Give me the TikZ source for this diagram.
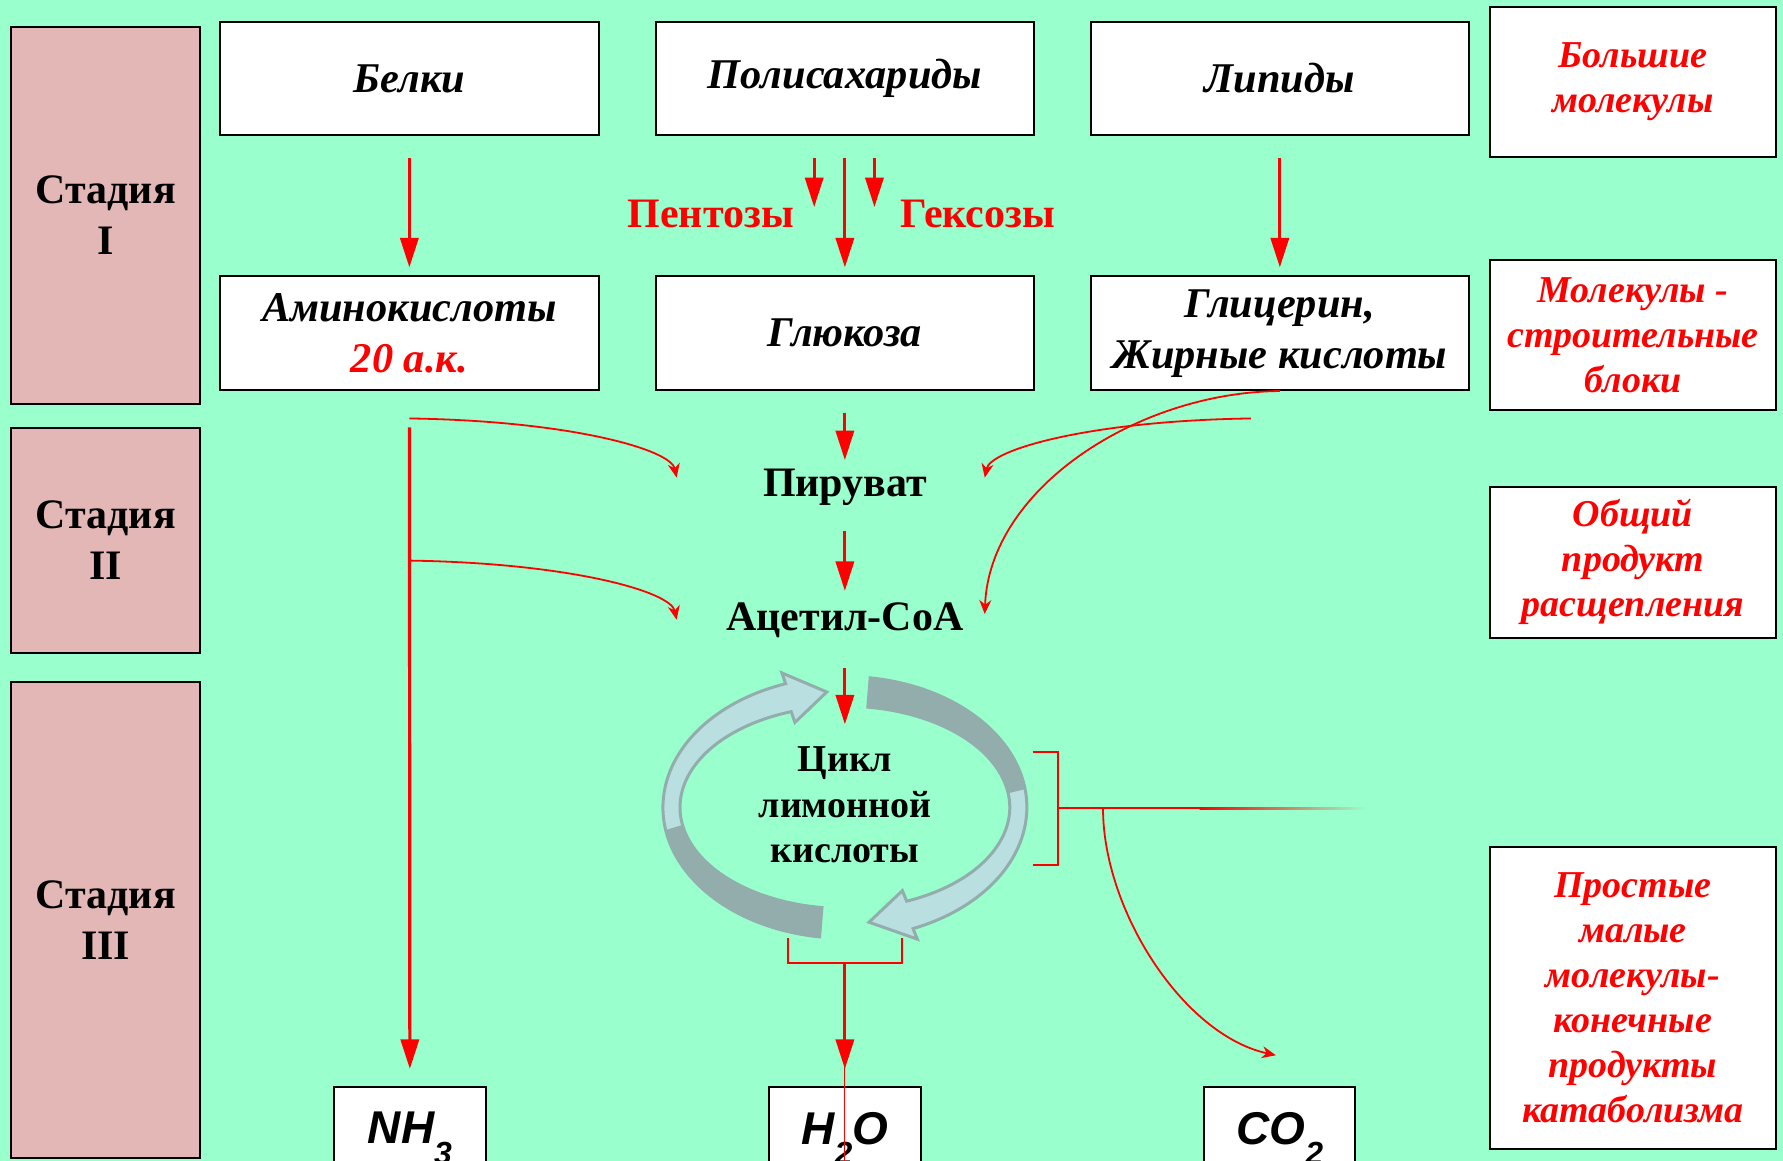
\documentclass[tikz,border=0pt]{standalone}
\usepackage{fontspec}
\setmainfont{Liberation Serif}
\newfontfamily\chemfont{Liberation Sans}
\usepackage{xcolor}
\usetikzlibrary{arrows.meta, positioning, calc}

\definecolor{bgmint}{HTML}{99FFCC}
\definecolor{stagepink}{HTML}{E4B7B7}
\definecolor{ringlight}{HTML}{B9DFE1}
\definecolor{ringgrey}{HTML}{93ADAD}

\begin{document}
\begin{tikzpicture}[
    font=\bfseries\fontsize{21}{25.5}\selectfont,
    stagebox/.style={draw, line width=1pt, fill=stagepink, minimum width=3.32cm, align=center},
    molbox/.style={draw, line width=1pt, fill=white, minimum width=6.66cm, minimum height=2cm, align=center, font=\bfseries\itshape\fontsize{21.2}{25.5}\selectfont},
    notebox/.style={draw, line width=1pt, fill=white, minimum width=5.04cm, align=center, text=red, font=\bfseries\itshape\fontsize{19}{22.5}\selectfont},
    endbox/.style={draw, line width=1pt, fill=white, minimum width=2.66cm, anchor=north, inner ysep=0.44cm, text depth=1.2cm, font=\chemfont\bfseries\itshape\fontsize{23}{23}\selectfont},
    midtext/.style={inner sep=0pt, text height=0.5cm, text depth=0.15cm},
    bigarrow/.style={red, line width=1.6pt, -{Triangle[length=0.52cm, width=0.32cm]}},
    thinarrow/.style={red, line width=0.9pt, -{Stealth[length=7pt, width=6pt]}},
    redline/.style={red, line width=1pt}
]
    \useasboundingbox (0,0) rectangle (31.36,-20.42);
    \fill[bgmint] (0,0) rectangle (31.36,-20.42);

    % Stages
    \node[stagebox, minimum height=6.62cm] (st1) at (1.86,-3.79) {Стадия\\I};
    \node[stagebox, minimum height=3.96cm] (st2) at (1.86,-9.5) {Стадия\\II};
    \node[stagebox, minimum height=8.36cm] (st3) at (1.86,-16.18) {Стадия\\III};

    % Molecules
    \node[molbox] (belki) at (7.2,-1.38) {Белки};
    \node[molbox] (poly) at (14.86,-1.38) {Полисахариды};
    \node[molbox] (lipid) at (22.51,-1.38) {Липиды};
    \node[molbox] (amino) at (7.2,-5.86) {Аминокислоты\\\textcolor{red}{20 а.к.}};
    \node[molbox] (gluc) at (14.86,-5.86) {Глюкоза};
    \node[molbox] (glyc) at (22.51,-5.86) {Глицерин,\\Жирные кислоты};

    % Notes on the right
    \node[notebox, minimum height=2.64cm] (big) at (28.72,-1.44) {Большие\\молекулы};
    \node[notebox, minimum height=2.64cm] (blocks) at (28.72,-5.9) {Молекулы -\\строительные\\блоки};
    \node[notebox, minimum height=2.66cm] (common) at (28.72,-9.89) {Общий\\продукт\\расщепления};
    \node[notebox, minimum height=5.3cm] (simple) at (28.72,-17.55) {Простые\\малые\\молекулы-\\конечные\\продукты\\катаболизма};

    % Intermediates
    \node[red, midtext] (pent) at (12.5,-3.83) {Пентозы};
    \node[red, midtext] (hex) at (17.2,-3.83) {Гексозы};
    \node[midtext] (pyr) at (14.86,-8.55) {Пируват};
    \node[midtext] (acoa) at (14.86,-10.91) {Ацетил-СоА};

    % Citric acid cycle
    \coordinate (cyc) at (14.86,-14.2);
    \filldraw[fill=ringlight, draw=ringgrey, line width=1.5pt]
        ($(cyc)+(262:3.2 and 2.3)$) arc[start angle=262, end angle=109, x radius=3.2, y radius=2.3]
        -- ($(cyc)+(109:3.4 and 2.5)$) -- ($(cyc)+(96:3.05 and 2.04)$)
        -- ($(cyc)+(109:2.7 and 1.58)$) -- ($(cyc)+(109:2.9 and 1.78)$)
        arc[start angle=109, end angle=262, x radius=2.9, y radius=1.78] -- cycle;
    \fill[ringgrey]
        ($(cyc)+(262:3.2 and 2.3)$) arc[start angle=262, end angle=190, x radius=3.2, y radius=2.3]
        -- ($(cyc)+(190:2.9 and 1.78)$)
        arc[start angle=190, end angle=262, x radius=2.9, y radius=1.78] -- cycle;
    \filldraw[fill=ringlight, draw=ringgrey, line width=1.5pt]
        ($(cyc)+(82:3.2 and 2.3)$) arc[start angle=82, end angle=-68, x radius=3.2, y radius=2.3]
        -- ($(cyc)+(-68:3.4 and 2.5)$) -- ($(cyc)+(-82:3.05 and 2.04)$)
        -- ($(cyc)+(-68:2.7 and 1.58)$) -- ($(cyc)+(-68:2.9 and 1.78)$)
        arc[start angle=-68, end angle=82, x radius=2.9, y radius=1.78] -- cycle;
    \fill[ringgrey]
        ($(cyc)+(82:3.2 and 2.3)$) arc[start angle=82, end angle=8, x radius=3.2, y radius=2.3]
        -- ($(cyc)+(8:2.9 and 1.78)$)
        arc[start angle=8, end angle=82, x radius=2.9, y radius=1.78] -- cycle;
    \node[align=center, font=\bfseries\fontsize{19}{22.7}\selectfont] (cycle) at (14.86,-14.16) {Цикл\\лимонной\\кислоты};

    % End products
    \node[endbox] (nh) at (7.21,-19.1) {NH\raisebox{-0.45em}{\fontsize{16}{16}\selectfont 3}};
    \node[endbox] (h2o) at (14.86,-19.1) {H\raisebox{-0.45em}{\fontsize{16}{16}\selectfont 2}O};
    \node[endbox] (co2) at (22.51,-19.1) {CO\raisebox{-0.45em}{\fontsize{16}{16}\selectfont 2}};

    % Free ends
    \coordinate (cyctop) at (14.86,-12.74);
    \coordinate (aa1) at (7.2,-7.36);
    \coordinate (aa2) at (7.2,-9.86);
    \coordinate (pyrL) at (11.9,-8.4);
    \coordinate (acoaL) at (11.9,-10.9);
    \coordinate (lp1) at (22,-7.36);
    \coordinate (pyrR) at (17.32,-8.4);
    \coordinate (acoaR) at (17.32,-10.8);
    \coordinate (brB) at (14.86,-16.94);
    \coordinate (brR) at (19.4,-14.22);
    \coordinate (co2in) at (22.44,-18.56);

    % Main arrows
    \draw[bigarrow, shorten <=0.38cm, shorten >=0.14cm] (belki) -- (amino);
    \draw[bigarrow, shorten <=0.38cm, shorten >=0.14cm] (poly) -- (gluc);
    \draw[bigarrow, shorten <=0.38cm, shorten >=1.2cm] ([xshift=-0.54cm]poly.south) -- ([xshift=-0.54cm]gluc.north);
    \draw[bigarrow, shorten <=0.38cm, shorten >=1.2cm] ([xshift=0.52cm]poly.south) -- ([xshift=0.52cm]gluc.north);
    \draw[bigarrow, shorten <=0.38cm, shorten >=0.14cm] (lipid) -- (glyc);
    \draw[bigarrow, shorten <=0.38cm, shorten >=0.125cm] (gluc) -- (pyr);
    \draw[bigarrow, shorten <=0.465cm, shorten >=0.185cm] (pyr) -- (acoa);
    \draw[bigarrow, shorten <=0.505cm] (acoa) -- (cyctop);
    \draw[bigarrow, shorten <=0.64cm, shorten >=0.3cm] (amino) -- (nh);

    % Side feeds
    \draw[thinarrow] (aa1) .. controls (10,-7.4) and (11.8,-7.9) .. (pyrL);
    \draw[thinarrow] (aa2) .. controls (10,-9.9) and (11.8,-10.4) .. (acoaL);
    \draw[thinarrow] (lp1) .. controls (19.2,-7.4) and (17.42,-7.9) .. (pyrR);
    \draw[thinarrow] (glyc.south) .. controls (20,-6.9) and (17.4,-8.6) .. (acoaR);

    % Outputs of the cycle
    \draw[redline] (18.16,-13.22) -| (18.6,-15.22) -- (18.16,-15.22);
    \draw[redline] (18.6,-14.22) -- (21.1,-14.22);
    \shade[left color=red, right color=bgmint] (21.1,-14.24) rectangle (24.04,-14.2);
    \draw[thinarrow] (brR) .. controls (19.4,-16.0) and (20.8,-18.2) .. (co2in);
    \draw[redline] (13.86,-16.5) |- (15.86,-16.94) -- (15.86,-16.5);
    \draw[bigarrow, shorten >=0.3cm] (brB) -- (h2o);
    \draw[red, line width=0.6pt] (brB) -- ++(0,-4);
\end{tikzpicture}
\end{document}
